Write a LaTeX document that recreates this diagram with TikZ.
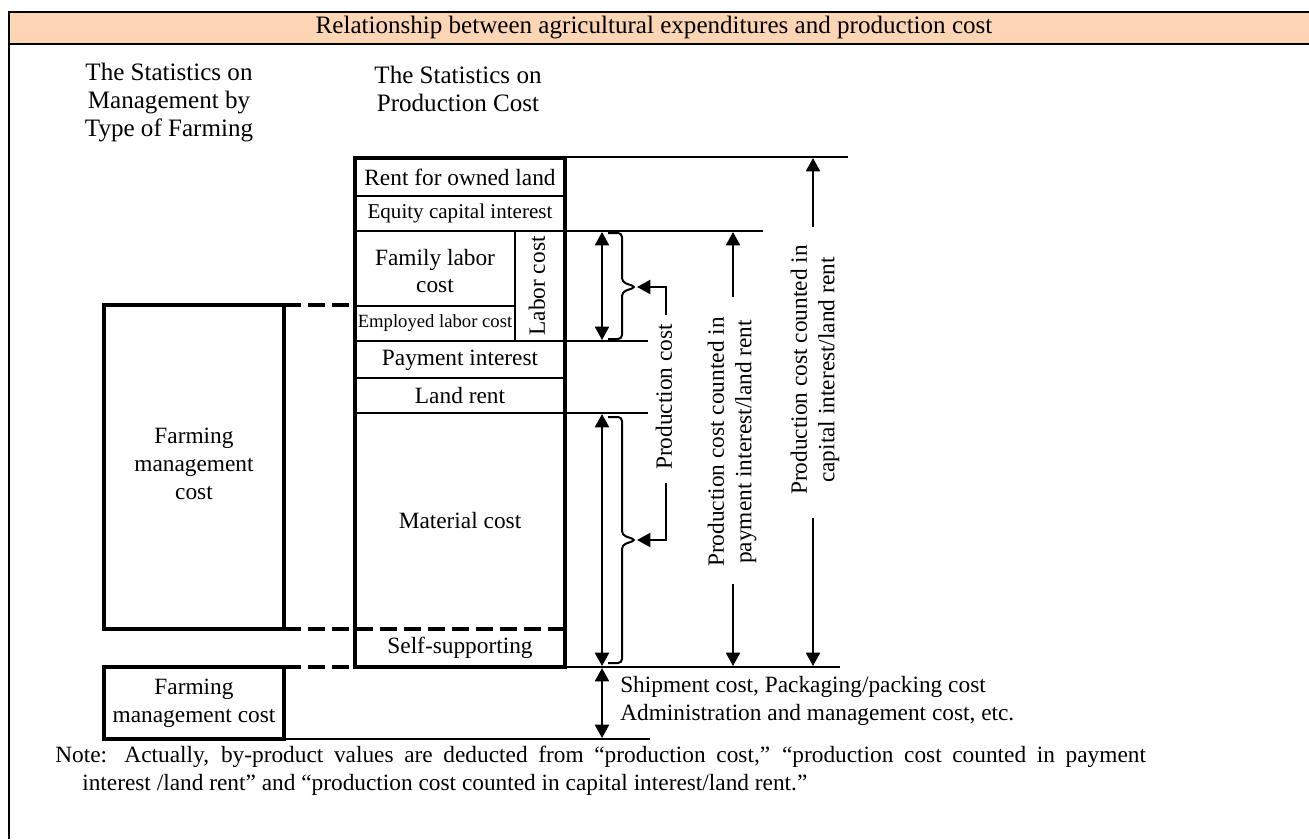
\documentclass[tikz,border=0pt]{standalone}
\usepackage{fontspec}
\setmainfont{Liberation Serif}
\usetikzlibrary{arrows.meta}
\definecolor{titlefill}{RGB}{252,213,181}
\begin{document}
\begin{tikzpicture}[x=0.75pt,y=-0.75pt,
  frame/.style={line width=1.75pt},
  thickbox/.style={line width=3pt},
  thinrule/.style={line width=1.5pt},
  dashrule/.style={line width=3pt, dash pattern=on 13pt off 5pt},
  arr/.style={line width=1.5pt, -{Triangle[length=10pt,width=10.5pt]}},
  darr/.style={line width=1.5pt, {Triangle[length=10pt,width=10.5pt]}-{Triangle[length=10pt,width=10.5pt]}},
  bracket/.style={line width=1.5pt, rounded corners=3pt},
  txt/.style={font=\fontsize{17.5}{20.75}\selectfont, align=center, inner sep=0pt},
  bigtxt/.style={font=\fontsize{18.8}{21}\selectfont, align=center, inner sep=0pt},
  txtl/.style={font=\fontsize{17.5}{20.75}\selectfont, align=left, inner sep=0pt},
  smalltxt/.style={font=\fontsize{15.8}{19}\selectfont, inner sep=0pt},
  tinytxt/.style={font=\fontsize{14}{17}\selectfont, inner sep=0pt}
]
\useasboundingbox (0,0) rectangle (1309,839);
\fill[white] (0,0) rectangle (1309,839);

% title band and frame
\fill[titlefill] (9,12) rectangle (1309,44);
\draw[frame] (1309,12) -- (9,12) -- (9,839);
\draw[frame] (9,44) -- (1309,44);
\node[bigtxt] (title) at (654,28) {Relationship between agricultural expenditures and production cost};

% headers
\node[bigtxt] (hdrA) at (169,103) {The Statistics on\\Management by\\Type of Farming};
\node[bigtxt] (hdrB) at (458,89) {The Statistics on\\Production Cost};

% coordinates
\coordinate (mTL) at (355,158);
\coordinate (mBR) at (565,667);

% thin rules inside main column and extensions
\draw[thinrule] (355,196) -- (565,196);
\draw[thinrule] (355,231) -- (763,231);
\draw[thinrule] (355,306) -- (515,306);
\draw[thinrule] (515,231) -- (515,341);
\draw[thinrule] (355,341) -- (648,341);
\draw[thinrule] (355,378) -- (565,378);
\draw[thinrule] (355,413) -- (648,413);
\draw[thinrule] (565,157) -- (848,157);
\draw[thinrule] (565,667) -- (840,667);
\draw[thinrule] (284,739) -- (650,739);

% dashed connections
\draw[dashrule] (284,305) -- (355,305);
\draw[dashrule] (284,629) -- (565,629);
\draw[dashrule] (284,667) -- (355,667);

% thick boxes
\draw[thickbox] (mTL) rectangle (mBR);
\draw[thickbox] (104,305) rectangle (284,629);
\draw[thickbox] (104,667) rectangle (284,739);

% cell texts
\node[txt] (rent) at (460,177) {Rent for owned land};
\node[smalltxt] (equity) at (460,213) {Equity capital interest};
\node[txt] (family) at (435,271) {Family labor\\cost};
\node[tinytxt] (employed) at (435,323) {Employed labor cost};
\node[txt, rotate=90] (labor) at (537,286) {Labor cost};
\node[txt] (payint) at (460,360) {Payment interest};
\node[txt] (landrent) at (460,396) {Land rent};
\node[txt] (material) at (460,521) {Material cost};
\node[txt] (selfsup) at (460,648) {Self-supporting};
\node[txt] (fmc) at (194,464) {Farming\\management\\cost};
\node[txt] (fmc2) at (194,703) {Farming\\management cost};

% double arrows
\draw[darr] (602,232) -- (602,340);
\draw[darr] (602,414) -- (602,666);
\draw[darr] (602,668) -- (602,738);

% brackets
\draw[bracket] (608,233) -- (622,233) -- (622,282) -- (636,287) -- (622,292) -- (622,339) -- (608,339);
\draw[bracket] (608,417) -- (622,417) -- (622,535) -- (636,540) -- (622,545) -- (622,663) -- (608,663);

% production cost label with elbows
\node[txt, rotate=90] (pc) at (664,397) {Production cost};
\coordinate (pcU) at (666,315);
\coordinate (pcD) at (666,483);
\coordinate (brU) at (637,287);
\coordinate (brD) at (637,540);
\draw[arr] (pcU) |- (brU);
\draw[arr] (pcD) |- (brD);

% payment interest label
\node[txt, rotate=90] (pcpay) at (732,442) {Production cost counted in\\payment interest/land rent};
\draw[arr] (733,297) -- (733,232);
\draw[arr] (733,584) -- (733,666);

% capital interest label
\node[txt, rotate=90] (pccap) at (815,370) {Production cost counted in\\capital interest/land rent};
\draw[arr] (813,227) -- (813,158);
\draw[arr] (813,518) -- (813,666);

% shipment text
\node[txtl, anchor=west] (ship1) at (620,687) {Shipment cost, Packaging/packing cost};
\node[txtl, anchor=west] (ship2) at (620,715) {Administration and management cost, etc.};

% note
\node[txtl, anchor=west] (note1) at (55,757) {\makebox[818pt][s]{Note: Actually, by-product values are deducted from “production cost,” “production cost counted in payment}};
\node[txtl, anchor=west] (note2) at (82,785) {interest /land rent” and “production cost counted in capital interest/land rent.”};
\end{tikzpicture}
\end{document}
